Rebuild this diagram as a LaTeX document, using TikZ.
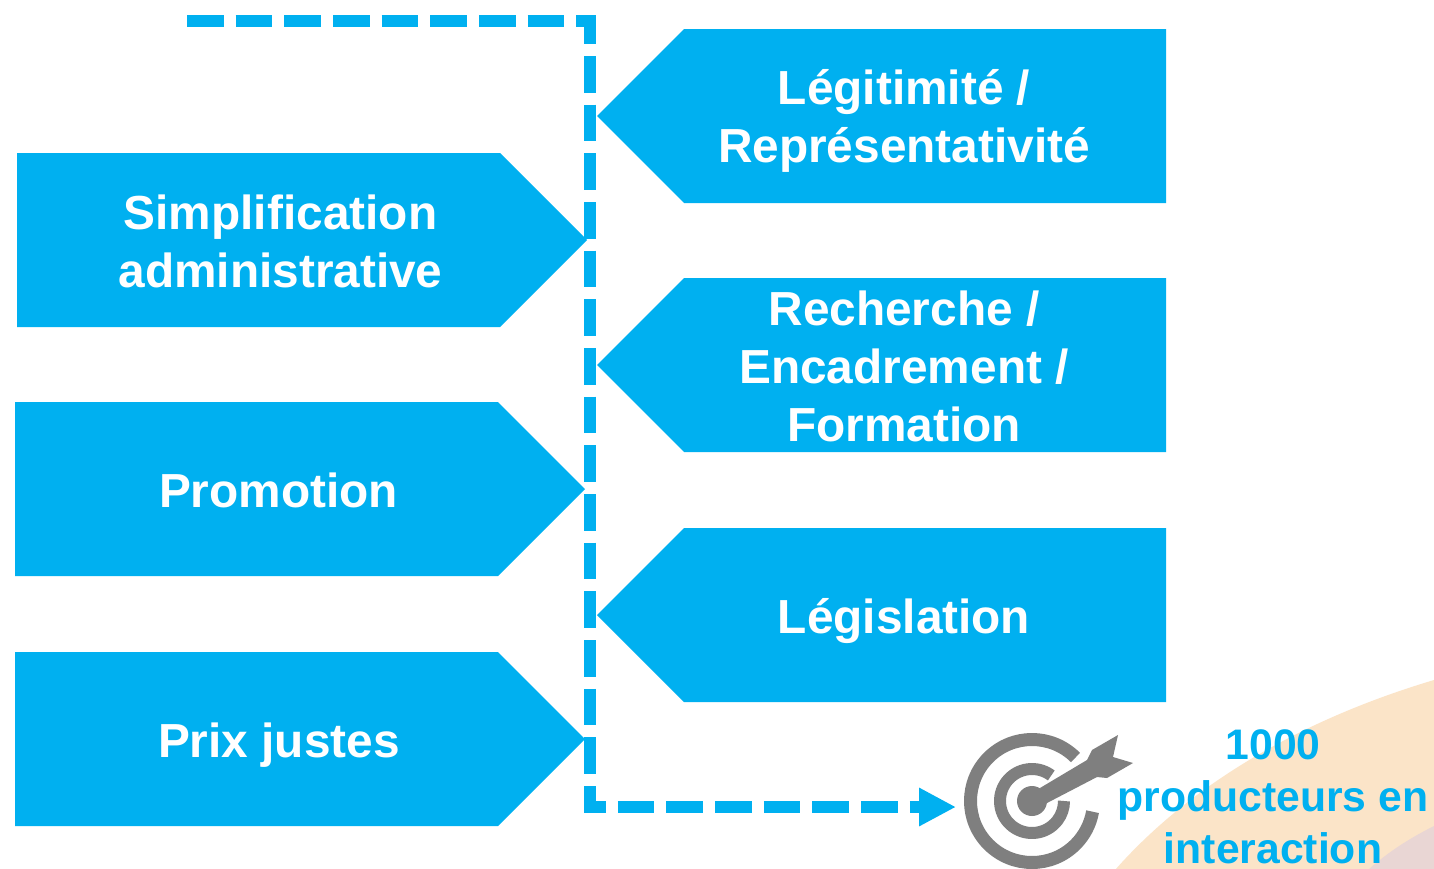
\documentclass[tikz,border=0pt]{standalone}
\usepackage{fontspec}
\setmainfont{Liberation Sans}
\usetikzlibrary{arrows.meta}
\definecolor{cyanbox}{HTML}{00B0F0}
\definecolor{bandorange}{HTML}{FBE4C8}
\definecolor{bandpink}{HTML}{E9D6D4}
\definecolor{targetgray}{HTML}{7F7F7F}
\tikzset{
  chevron/.style={fill=cyanbox,draw=none},
  boxtext/.style={text=white,font=\bfseries\fontsize{47.8}{58}\selectfont,align=center,inner sep=0pt},
  goaltext/.style={text=cyanbox,font=\bfseries\fontsize{42.7}{52}\selectfont,align=center,inner sep=0pt},
  flowline/.style={draw=cyanbox,line width=12pt,dash pattern=on 36.67pt off 12pt,miter limit=10,line join=miter},
  ring/.style={draw=targetgray,line width=13pt}
}
\begin{document}
\begin{tikzpicture}[x=1pt,y=-1pt]
\useasboundingbox (0,0) rectangle (1434,868);
\fill[white] (0,0) rectangle (1434,868);
\begin{scope}
\clip (0,0) rectangle (1434,868);
\fill[bandorange] (1115,870) .. controls (1190,785) and (1300,720) .. (1434,680) -- (1434,870) -- cycle;
\fill[bandpink] (1368,870) .. controls (1388,852) and (1410,838) .. (1434,826) -- (1434,870) -- cycle;
\end{scope}
% left chevrons
\fill[chevron] (17,153) -- (500,153) -- (587,240) -- (500,327) -- (17,327) -- cycle;
\fill[chevron] (15,402) -- (498,402) -- (585,489) -- (498,576) -- (15,576) -- cycle;
\fill[chevron] (15,652) -- (498,652) -- (585,739) -- (498,826) -- (15,826) -- cycle;
% right chevrons
\fill[chevron] (597,116) -- (684,29) -- (1166,29) -- (1166,203) -- (684,203) -- cycle;
\fill[chevron] (597,365) -- (684,278) -- (1166,278) -- (1166,452) -- (684,452) -- cycle;
\fill[chevron] (597,615) -- (684,528) -- (1166,528) -- (1166,702) -- (684,702) -- cycle;
% labels
\node[boxtext] (simp) at (280.5,241) {Simplification\\administrative};
\node[boxtext] (promo) at (278.5,490) {Promotion};
\node[boxtext] (prix) at (279,745) {Prix justes};
\node[boxtext] (legi) at (904,121) {Légitimité /\\Représentativité};
\node[boxtext] (rech) at (904,366) {Recherche /\\Encadrement /\\Formation};
\node[boxtext] (legis) at (904,621) {Législation};
% dashed connector
\coordinate (start) at (187,21);
\coordinate (c1) at (590,21);
\coordinate (c2) at (590,807);
\coordinate (goal) at (956,807);
\draw[flowline,-{Triangle[length=37pt,width=36pt]}] (start) -- (c1) -- (c2) -- (goal);
% target icon
\coordinate (tc) at (1032,801);
\draw[ring] (tc) ++(-45:61.5) arc[start angle=-45,end angle=-350,radius=61.5];
\draw[ring,line width=12pt] (tc) ++(-53:32) arc[start angle=-53,end angle=-360,radius=32];
\fill[targetgray] (tc) circle[radius=15];
\fill[targetgray] (1040,788) -- (1087,760) -- (1092,750) -- (1118,735) -- (1113,757) -- (1133,763) -- (1107,778) -- (1097,777) -- (1047,803) -- cycle;
% goal label
\node[goaltext] (goaltxt) at (1273,797) {1000\\producteurs en\\interaction};
\end{tikzpicture}
\end{document}
